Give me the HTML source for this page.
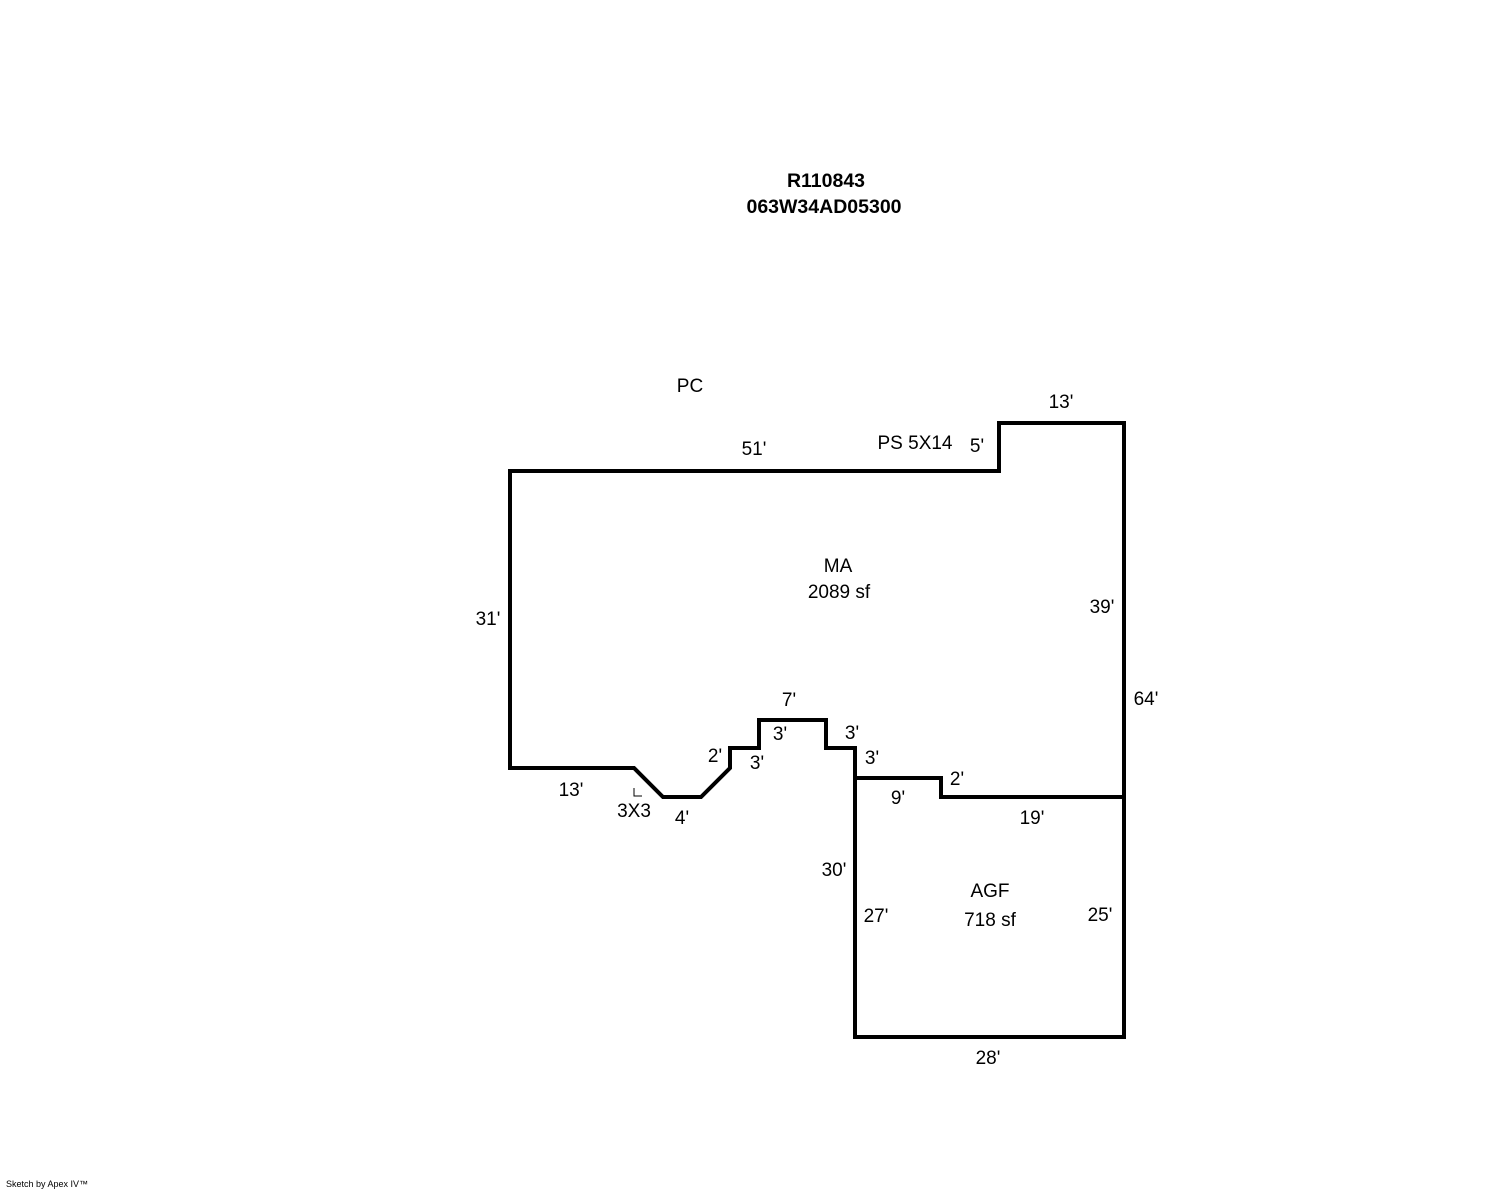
<!DOCTYPE html>
<html><head><style>
body{margin:0;background:#fff;}
svg text{font-family:"Liberation Sans",Arial,sans-serif;font-size:19px;fill:#000;}
</style></head><body>
<svg width="1488" height="1190" xmlns="http://www.w3.org/2000/svg">
<g fill="none" stroke="#000" stroke-width="4" stroke-linejoin="miter">
<path d="M510,471 L999,471 L999,423 L1124,423 L1124,1037 L855,1037 L855,748 L826,748 L826,720 L759,720 L759,748 L730,748 L730,768 L701,797 L663,797 L634,768 L510,768 Z"/>
<path d="M855,778 L941,778 L941,797 L1124,797"/>
</g>
<path d="M634,788 L634,796 L642,796" fill="none" stroke="#000" stroke-width="1"/>
<text x="826" y="187" text-anchor="middle" font-weight="bold" style="font-size:19.5px">R110843</text>
<text x="824" y="213" text-anchor="middle" font-weight="bold" style="font-size:19.5px">063W34AD05300</text>
<text x="690" y="392" text-anchor="middle">PC</text>
<text x="1061" y="408" text-anchor="middle">13'</text>
<text x="754" y="455" text-anchor="middle">51'</text>
<text x="915" y="449" text-anchor="middle">PS 5X14</text>
<text x="977" y="452" text-anchor="middle">5'</text>
<text x="838" y="572" text-anchor="middle">MA</text>
<text x="839" y="598" text-anchor="middle">2089 sf</text>
<text x="488" y="625" text-anchor="middle">31'</text>
<text x="1102" y="613" text-anchor="middle">39'</text>
<text x="1146" y="705" text-anchor="middle">64'</text>
<text x="789" y="706" text-anchor="middle">7'</text>
<text x="780" y="740" text-anchor="middle">3'</text>
<text x="852" y="739" text-anchor="middle">3'</text>
<text x="715" y="762" text-anchor="middle">2'</text>
<text x="757" y="769" text-anchor="middle">3'</text>
<text x="872" y="764" text-anchor="middle">3'</text>
<text x="957" y="785" text-anchor="middle">2'</text>
<text x="571" y="796" text-anchor="middle">13'</text>
<text x="898" y="804" text-anchor="middle">9'</text>
<text x="634" y="817" text-anchor="middle">3X3</text>
<text x="682" y="824" text-anchor="middle">4'</text>
<text x="1032" y="824" text-anchor="middle">19'</text>
<text x="834" y="876" text-anchor="middle">30'</text>
<text x="990" y="897" text-anchor="middle">AGF</text>
<text x="990" y="926" text-anchor="middle">718 sf</text>
<text x="876" y="922" text-anchor="middle">27'</text>
<text x="1100" y="921" text-anchor="middle">25'</text>
<text x="988" y="1064" text-anchor="middle">28'</text>
<text x="6" y="1187" style="font-size:9px">Sketch by Apex IV™</text>
</svg>
</body></html>
